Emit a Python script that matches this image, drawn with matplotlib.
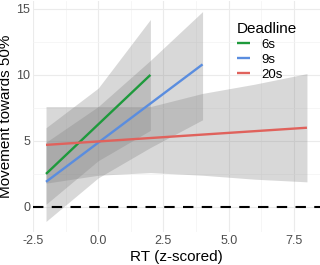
import matplotlib
matplotlib.use("Agg")
import matplotlib.pyplot as plt
from matplotlib.ticker import MultipleLocator

plt.rcParams['font.family'] = ['Liberation Sans', 'DejaVu Sans']

deadlines = ["6s", "9s", "20s"]
colors = ["#1e9a3c", "#5a8ddf", "#e0625c"]

# fitted lines (RT z-scored vs movement towards 50%)
line_x = [[-2, 2], [-2, 4], [-2, 8]]
line_y = [[2.5, 10.0], [1.9, 10.8], [4.7, 6.0]]

# confidence ribbons
rib_x = [[-2, 0, 2], [-2, 0, 2, 4], [-2, 0, 2, 4, 6, 8]]
rib_lo = [[0.2, 3.5, 5.8], [-1.1, 2.2, 4.5, 6.6], [1.8, 2.4, 2.6, 2.4, 2.1, 1.9]]
rib_hi = [[6.0, 9.0, 14.2], [4.9, 7.6, 11.1, 14.8], [7.6, 7.6, 7.6, 8.6, 9.3, 10.1]]

fig = plt.figure(figsize=(3.2, 2.65), dpi=100)
ax = fig.add_axes([0.103, 0.1245, 0.897, 0.8717])

for xs, lo, hi in zip(rib_x, rib_lo, rib_hi):
    ax.fill_between(xs, lo, hi, color="#808080", alpha=0.3, linewidth=0, zorder=2)

ax.axhline(0, color="black", linewidth=1.5, linestyle=(0, (5, 4)), zorder=3)

for name, c, xs, ys in zip(deadlines, colors, line_x, line_y):
    ax.plot(xs, ys, color=c, linewidth=1.7, label=name, zorder=4, solid_capstyle="butt")

ax.set_xlim(-2.5, 8.5)
ax.set_ylim(-1.9, 15.6)
ax.xaxis.set_major_locator(MultipleLocator(2.5))
ax.xaxis.set_minor_locator(MultipleLocator(1.25))
ax.yaxis.set_major_locator(MultipleLocator(5))
ax.yaxis.set_minor_locator(MultipleLocator(2.5))
ax.xaxis.set_major_formatter(plt.FuncFormatter(lambda v, p: f"{v:.1f}"))
ax.yaxis.set_major_formatter(plt.FuncFormatter(lambda v, p: f"{v:.0f}"))

ax.grid(which="major", color="#ebebeb", linewidth=0.8, zorder=0)
ax.grid(which="minor", color="#f3f3f3", linewidth=0.5, zorder=0)
ax.set_axisbelow(True)
for s in ax.spines.values():
    s.set_visible(False)
ax.tick_params(which="both", length=0, labelsize=9, labelcolor="#4d4d4d", pad=2)

ax.set_xlabel("RT (z-scored)", fontsize=11, labelpad=2)
ax.set_ylabel("Movement towards 50%", fontsize=11, va="center")
ax.yaxis.set_label_coords(-0.093, 0.5)

leg = ax.legend(title="Deadline", loc="upper left", bbox_to_anchor=(0.67, 0.96),
                frameon=False, fontsize=9.5, title_fontsize=11, handlelength=1.0,
                handletextpad=0.8, labelspacing=0.2, alignment="left")

fig.savefig("out.png", dpi=100)
